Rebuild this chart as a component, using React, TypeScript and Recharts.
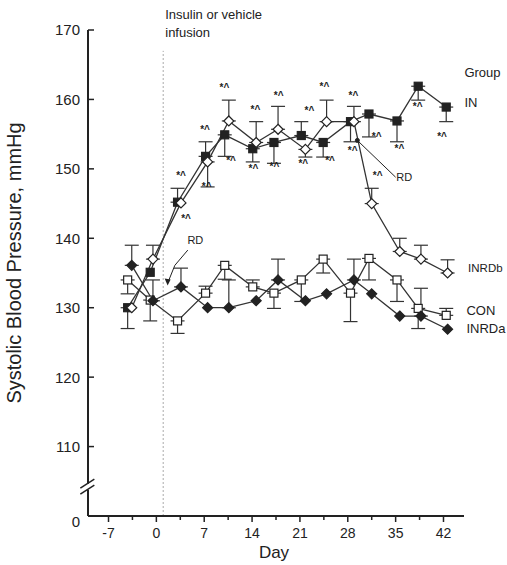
import React from 'react';
import { LineChart, Line, XAxis, YAxis, ErrorBar, ReferenceLine, ReferenceDot } from 'recharts';

// ---- data ----
const daysA = [-4.2, -0.9, 3.1, 7.2, 10, 14.1, 17.2, 21.2, 24.4, 28.4, 31.1, 35.2, 38.3, 42.4];
const daysB = [-3.6, -0.5, 3.6, 7.5, 10.6, 14.6, 17.8, 21.8, 24.9, 28.9, 31.5, 35.6, 38.7, 42.6];

type Err = [number, number] | null;

const inValues = [130.0, 135.1, 145.2, 151.8, 154.9, 152.9, 153.8, 154.8, 153.8, 156.8, 157.9, 156.9, 161.9, 158.9];
const inErr: Err[] = [[3, 0], null, [0, 2], [0, 2.1], [3.1, 0], [1.9, 0], [3, 0], [0, 2], [2.1, 0], [2.9, 0], [3.3, 0], [3, 0], [2, 0], [2.1, 0]];

const inrdbValues = [130.0, 137.0, 145.1, 151.0, 156.9, 153.8, 155.7, 152.8, 156.8, 156.8, 145.0, 138.1, 137.0, 135.0];
const inrdbErr: Err[] = [null, [0, 2], null, [3.6, 0], [0, 3], [0, 3], [0, 3.3], [1.1, 0], [0, 3.1], [0, 2.2], [0, 2.2], [0, 1.9], [0, 2], [0, 1.9]];

const conValues = [134.0, 131.1, 128.1, 132.1, 136.1, 133.0, 132.1, 134.0, 137.0, 132.1, 137.1, 134.0, 129.9, 128.9];
const conErr: Err[] = [[2, 0], [3, 0], [1.8, 0], [0, 1], [2, 0], [0, 1], [2.2, 0], [3.1, 0], [2, 0], [4.1, 0], [3.1, 0], [3.1, 0], [2.9, 0], [0, 1]];

const inrdaValues = [136.1, 131.0, 133.0, 130.0, 130.0, 131.0, 134.0, 131.0, 132.0, 134.0, 132.0, 128.8, 128.8, 126.9];
const inrdaErr: Err[] = [[0, 2.9], [0, 3], [0, 2.7], null, [0, 4], null, [0, 3], null, null, [0, 3], null, null, [0, 4], null];

const xTicks = [-7, -3.5, 0, 3.5, 7, 10.5, 14, 17.5, 21, 24.5, 28, 31.5, 35, 38.5, 42];
const yTicks = [100, 110, 120, 130, 140, 150, 160, 170];

// significance marks "*^" (day, mmHg)
const starDays = [9.95, 7.12, 3.61, 4.34, 7.36, 10.93, 14.19, 14.48, 17.89, 17.26, 22.38, 21.5, 24.58, 25.41, 28.82, 28.72, 32.23, 35.55, 38.22, 41.79, 32.37];
const starValues = [161.7, 155.7, 149.1, 142.9, 147.5, 151.2, 150.1, 158.6, 160.6, 150.3, 158.4, 150.8, 161.8, 151.2, 160.6, 152.7, 154.6, 153.0, 159.0, 154.6, 149.1];

// group labels at the right
const groupNames = ['Group', 'IN', 'INRDb', 'CON', 'INRDa'];
const groupDays = [45.06, 45.06, 45.6, 45.35, 45.35];
const groupValues = [163.95, 159.5, 135.7, 129.65, 127.06];
const groupSizes = [13, 13, 11.5, 13, 13];

const build = (days: number[], vals: number[], errs: Err[]) =>
  days.map((d, i) => ({ day: d, v: vals[i], err: errs[i] }));

const inData = build(daysA, inValues, inErr);
const inrdbData = build(daysB, inrdbValues, inrdbErr);
const conData = build(daysA, conValues, conErr);
const inrdaData = build(daysB, inrdaValues, inrdaErr);

const FONT = '"Liberation Sans", Arial, Helvetica, sans-serif';
const INK = '#222';
const LINE = '#333';

const square = (fill: string, s: number) => (p: any) => {
  if (p.cx == null || p.cy == null) return <g key={p.index} />;
  return (
    <rect key={p.index} x={p.cx - s / 2} y={p.cy - s / 2} width={s} height={s}
      fill={fill} stroke={INK} strokeWidth={1.2} />
  );
};
const diamond = (fill: string, s: number) => (p: any) => {
  if (p.cx == null || p.cy == null) return <g key={p.index} />;
  const h = s / 2;
  return (
    <path key={p.index} d={`M${p.cx},${p.cy - h} L${p.cx + h},${p.cy} L${p.cx},${p.cy + h} L${p.cx - h},${p.cy} Z`}
      fill={fill} stroke={INK} strokeWidth={1.2} />
  );
};

const XTick = (props: any) => {
  const { x, y, payload } = props;
  const v = payload.value;
  const major = Number.isInteger(v);
  return (
    <g>
      <line x1={x} x2={x} y1={y} y2={y + (major ? 6 : 4)} stroke={INK} strokeWidth={1.5} />
      {major && (
        <text x={x} y={y + 22} textAnchor="middle" fontSize={14} fontFamily={FONT} fill={INK}>
          {v}
        </text>
      )}
    </g>
  );
};

const YTick = (props: any) => {
  const { x, y, payload } = props;
  const v = payload.value;
  const isZero = v === 100;
  return (
    <g>
      {!isZero && <line x1={x} x2={x + 6} y1={y} y2={y} stroke={INK} strokeWidth={1.5} />}
      <text x={x - 8} y={y + (isZero ? 6 : 0)} dy="0.36em" textAnchor="end" fontSize={15} fontFamily={FONT} fill={INK}>
        {isZero ? '0' : v}
      </text>
    </g>
  );
};

const textShape = (txt: string, size: number, anchor: string = 'start', weight: string = 'normal') => (p: any) => (
  <text x={p.cx} y={p.cy} dy="0.35em" textAnchor={anchor} fontSize={size} fontWeight={weight}
    fontFamily={FONT} fill={INK}>
    {txt}
  </text>
);

const arrowHead = (p: any) => (
  <path d={`M${p.cx},${p.cy} L${p.cx - 3},${p.cy - 7} L${p.cx + 3},${p.cy - 6} Z`} fill={INK} />
);

export default function App() {
  return (
    <div style={{ position: 'absolute', left: 0, top: 0, width: 507, height: 565, background: '#fff' }}>
      <LineChart width={507} height={565} margin={{ top: 30, right: 43, bottom: 0, left: 28 }}>
        <XAxis
          type="number" dataKey="day" domain={[-10, 45]} ticks={xTicks} interval={0}
          height={49} tickSize={0} tickMargin={0} tick={<XTick />} tickLine={false}
          axisLine={{ stroke: INK, strokeWidth: 2 }} allowDataOverflow
          label={{
            content: (p: any) => {
              const vb = p.viewBox;
              return (
                <text x={vb.x + vb.width / 2 - 2} y={vb.y + 42} textAnchor="middle" fontSize={17}
                  fontFamily={FONT} fill={INK}>Day</text>
              );
            },
          }}
        />
        <YAxis
          type="number" domain={[100, 170]} ticks={yTicks} interval={0} width={60}
          tickSize={0} tickMargin={0} tick={<YTick />} tickLine={false} axisLine={false} allowDataOverflow
          label={{
            content: (p: any) => {
              const vb = p.viewBox;
              const cx = vb.x - 7;
              const cy = vb.y + vb.height / 2 - 10;
              return (
                <text x={cx} y={cy} transform={`rotate(-90 ${cx} ${cy})`} textAnchor="middle" fontSize={20}
                  fontFamily={FONT} fill={INK}>Systolic Blood Pressure, mmHg</text>
              );
            },
          }}
        />

        {/* broken y axis */}
        <ReferenceLine segment={[{ x: -10, y: 104.66 }, { x: -10, y: 170 }]} stroke={INK} strokeWidth={2} ifOverflow="visible" />
        <ReferenceLine segment={[{ x: -10, y: 100 }, { x: -10, y: 103.79 }]} stroke={INK} strokeWidth={2} ifOverflow="visible" />
        <ReferenceLine segment={[{ x: -11.12, y: 104.0 }, { x: -9.07, y: 105.3 }]} stroke={INK} strokeWidth={1.5} ifOverflow="visible" />
        <ReferenceLine segment={[{ x: -11.12, y: 103.14 }, { x: -9.07, y: 104.44 }]} stroke={INK} strokeWidth={1.5} ifOverflow="visible" />

        {/* infusion start */}
        <ReferenceLine segment={[{ x: 1, y: 100 }, { x: 1, y: 167 }]} stroke="#aaa" strokeWidth={1} strokeDasharray="2 2" ifOverflow="visible" />
        <ReferenceDot x={1.3} y={172.2} r={0} ifOverflow="visible" shape={textShape('Insulin or vehicle', 13)} />
        <ReferenceDot x={1.3} y={169.6} r={0} ifOverflow="visible" shape={textShape('infusion', 13)} />

        <Line data={conData} dataKey="v" stroke={LINE} strokeWidth={1.3} isAnimationActive={false}
          dot={square('#fff', 8)} activeDot={false}>
          <ErrorBar dataKey="err" direction="y" width={7} stroke={LINE} strokeWidth={1.2} />
        </Line>
        <Line data={inrdaData} dataKey="v" stroke={LINE} strokeWidth={1.3} isAnimationActive={false}
          dot={diamond(INK, 10)} activeDot={false}>
          <ErrorBar dataKey="err" direction="y" width={7} stroke={LINE} strokeWidth={1.2} />
        </Line>
        <Line data={inData} dataKey="v" stroke={LINE} strokeWidth={1.3} isAnimationActive={false}
          dot={square(INK, 8)} activeDot={false}>
          <ErrorBar dataKey="err" direction="y" width={7} stroke={LINE} strokeWidth={1.2} />
        </Line>
        <Line data={inrdbData} dataKey="v" stroke={LINE} strokeWidth={1.3} isAnimationActive={false}
          dot={diamond('#fff', 10)} activeDot={false}>
          <ErrorBar dataKey="err" direction="y" width={7} stroke={LINE} strokeWidth={1.2} />
        </Line>

        {/* RD annotations */}
        <ReferenceDot x={5.7} y={139.7} r={0} ifOverflow="visible" shape={textShape('RD', 11, 'middle')} />
        <ReferenceLine segment={[{ x: 4.6, y: 138.3 }, { x: 2.7, y: 136.1 }]} stroke={INK} strokeWidth={1} ifOverflow="visible" />
        <ReferenceLine segment={[{ x: 2.7, y: 136.1 }, { x: 1.8, y: 133.9 }]} stroke={INK} strokeWidth={1} ifOverflow="visible" />
        <ReferenceDot x={1.65} y={133.2} r={0} ifOverflow="visible" shape={arrowHead} />

        <ReferenceLine segment={[{ x: 29.4, y: 154.1 }, { x: 35.0, y: 148.8 }]} stroke={INK} strokeWidth={1} ifOverflow="visible" />
        <ReferenceDot x={29.4} y={154.1} r={2} fill={INK} stroke={INK} ifOverflow="visible" />
        <ReferenceDot x={35.1} y={148.8} r={0} ifOverflow="visible" shape={textShape('RD', 11)} />

        {/* significance marks */}
        {starDays.map((d, i) => (
          <ReferenceDot key={`s${i}`} x={d} y={starValues[i]} r={0} ifOverflow="visible"
            shape={textShape('*^', 10, 'middle', 'bold')} />
        ))}

        {/* group labels */}
        {groupNames.map((n, i) => (
          <ReferenceDot key={`g${i}`} x={groupDays[i]} y={groupValues[i]} r={0} ifOverflow="visible"
            shape={textShape(n, groupSizes[i])} />
        ))}
      </LineChart>
    </div>
  );
}
